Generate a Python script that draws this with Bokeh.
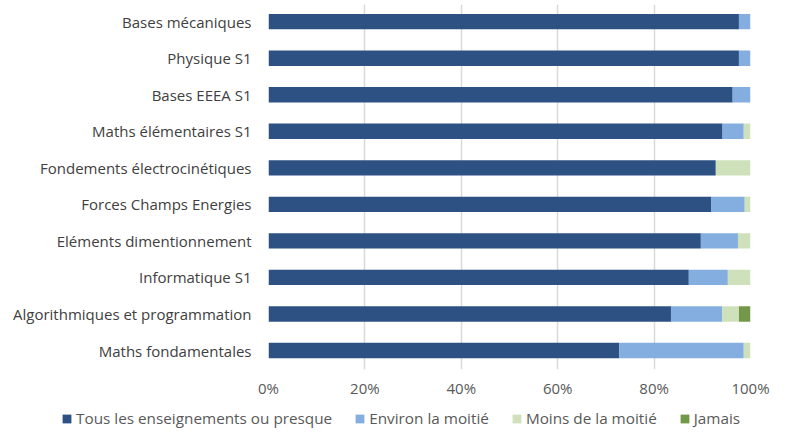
from bokeh.plotting import figure
from bokeh.layouts import column
from bokeh.models import (Range1d, FixedTicker, NumeralTickFormatter, Legend,
                          LegendItem, ColumnDataSource)
from bokeh.embed import file_html
from bokeh.resources import INLINE

categories = ["Bases mécaniques", "Physique S1", "Bases EEEA S1",
              "Maths élémentaires S1", "Fondements électrocinétiques",
              "Forces Champs Energies", "Eléments dimentionnement",
              "Informatique S1", "Algorithmiques et programmation",
              "Maths fondamentales"]
tous = [97.6, 97.6, 96.3, 94.2, 92.8, 91.9, 89.7, 87.2, 83.5, 72.8]
environ = [2.4, 2.4, 3.7, 4.4, 0.0, 6.9, 7.7, 8.1, 10.6, 25.8]
moins = [0.0, 0.0, 0.0, 1.4, 7.2, 1.2, 2.6, 4.7, 3.5, 1.4]
jamais = [0.0, 0.0, 0.0, 0.0, 0.0, 0.0, 0.0, 0.0, 2.4, 0.0]
series_names = ["Tous les enseignements ou presque", "Environ la moitié",
                "Moins de la moitié", "Jamais"]
x_ticks = [0, 0.2, 0.4, 0.6, 0.8, 1.0]

colors = ["#2E5184", "#84AEDF", "#CFE1BA", "#74984A"]
n = len(categories)
ypos = [n - 1 - i for i in range(n)]
source = ColumnDataSource(dict(
    y=ypos,
    s0=[v / 100 for v in tous],
    s1=[v / 100 for v in environ],
    s2=[v / 100 for v in moins],
    s3=[v / 100 for v in jamais],
))
stackers = ["s0", "s1", "s2", "s3"]

p = figure(width=771, height=407, output_backend="svg", toolbar_location=None,
           x_range=Range1d(0, 1), y_range=Range1d(-0.52, 9.47),
           min_border_left=268, min_border_right=21, min_border_top=4,
           min_border_bottom=38)
p.outline_line_color = None
p.frame_align = False

p.hbar_stack(stackers, y="y", height=0.42, color=colors,
             line_color=None, source=source)

font = "Open Sans"
p.xaxis.ticker = FixedTicker(ticks=x_ticks)
p.xaxis.formatter = NumeralTickFormatter(format="0%")
p.xaxis.axis_line_color = None
p.xaxis.major_tick_line_color = None
p.xaxis.minor_tick_line_color = None
p.xaxis.major_label_text_font = font
p.xaxis.major_label_text_font_size = "15px"
p.xaxis.major_label_text_color = "#595959"
p.xaxis.major_label_standoff = 2

p.yaxis.ticker = FixedTicker(ticks=ypos)
p.yaxis.major_label_overrides = {y: c for y, c in zip(ypos, categories)}
p.yaxis.axis_line_color = None
p.yaxis.major_tick_line_color = None
p.yaxis.minor_tick_line_color = None
p.yaxis.major_label_text_font = font
p.yaxis.major_label_text_font_size = "15px"
p.yaxis.major_label_text_color = "#404040"
p.yaxis.major_label_standoff = 11

p.xgrid.ticker = FixedTicker(ticks=x_ticks)
p.xgrid.grid_line_color = "#D9D9D9"
p.xgrid.grid_line_width = 1.5
p.ygrid.grid_line_color = None

# legend strip (bars fall outside its range; only the legend is visible)
lg = figure(width=771, height=22, output_backend="svg", toolbar_location=None,
            x_range=Range1d(10, 11), y_range=Range1d(100, 101),
            x_axis_location=None, y_axis_location=None,
            min_border_left=0, min_border_right=0, min_border_top=0,
            min_border_bottom=0)
lg.outline_line_color = None
lg.grid.grid_line_color = None
lg.frame_align = False
rs = lg.hbar_stack(stackers, y="y", height=0.42, color=colors,
                   line_color=None, source=source)
items = [LegendItem(label=name, renderers=[r]) for name, r in zip(series_names, rs)]
legend = Legend(items=items, orientation="horizontal", location=(61, 1),
                border_line_color=None, background_fill_alpha=0,
                label_text_font=font, label_text_font_size="15.3px",
                label_text_color="#595959", glyph_width=11, glyph_height=11,
                label_standoff=4, spacing=22, padding=0, margin=0)
lg.add_layout(legend, "center")

layout = column(p, lg, spacing=0)
open("out.html", "w").write(file_html(layout, INLINE))
